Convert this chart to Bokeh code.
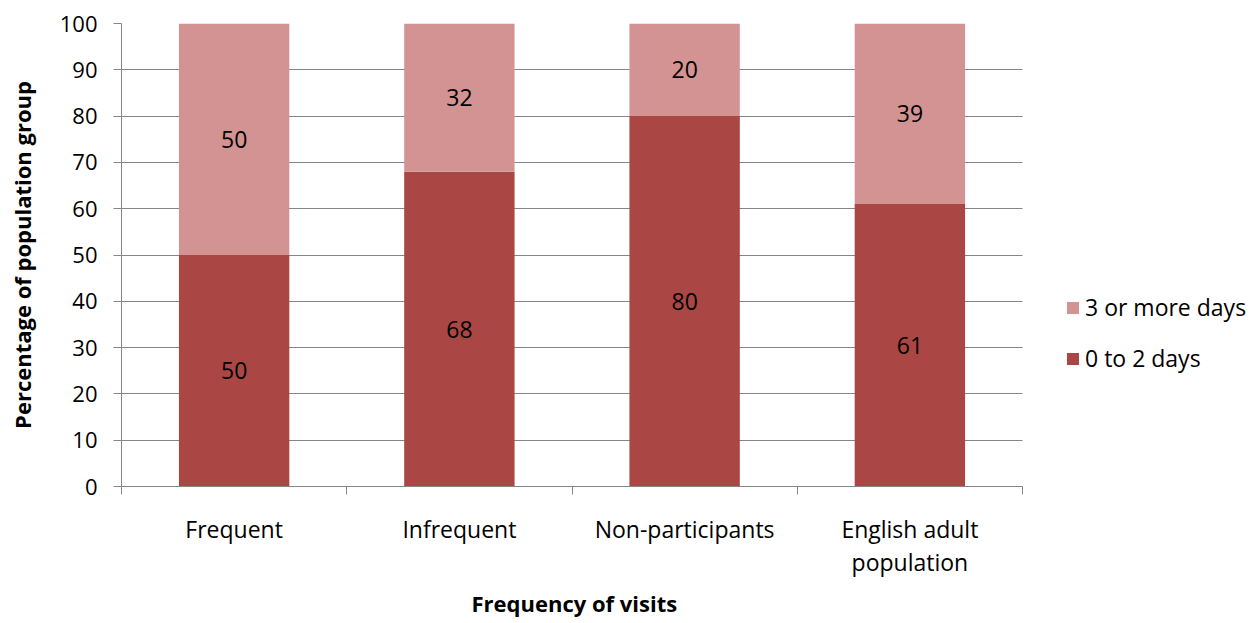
from bokeh.plotting import figure
from bokeh.models import ColumnDataSource, FixedTicker, Legend, LegendItem, Range1d, Title
from bokeh.core.properties import value
from bokeh.embed import file_html
from bokeh.resources import INLINE

categories = ["Frequent", "Infrequent", "Non-participants", "English adult population"]
cat_labels = ["Frequent", "Infrequent", "Non-participants", "English adult\npopulation"]
low_days = [50, 68, 80, 61]      # 0 to 2 days
high_days = [50, 32, 20, 39]     # 3 or more days
y_ticks = [0, 10, 20, 30, 40, 50, 60, 70, 80, 90, 100]

FONT = "Open Sans"
DARK = "#AA4643"
LIGHT = "#D29392"
GRID = "#868686"

n = len(categories)
xs = [i + 0.5 for i in range(n)]
src = ColumnDataSource(dict(
    x=xs,
    low=low_days,
    high=high_days,
    top_high=[a + b for a, b in zip(low_days, high_days)],
    mid_low=[a / 2 for a in low_days],
    mid_high=[a + b / 2 for a, b in zip(low_days, high_days)],
    lab_low=[str(v) for v in low_days],
    lab_high=[str(v) for v in high_days],
))

# frame spans from the y axis to the right edge; the legend lives inside it
FRAME_L, PLOT_R, FIG_W = 121, 1022, 1250
x_end = n * (FIG_W - FRAME_L) / (PLOT_R - FRAME_L)

p = figure(width=FIG_W, height=623, output_backend="svg", toolbar_location=None,
           x_range=Range1d(0, x_end), y_range=Range1d(0, 100),
           min_border_left=FRAME_L, min_border_right=0, min_border_top=23,
           min_border_bottom=137)
p.outline_line_color = None

r_low = p.vbar(x="x", bottom=0, top="low", width=0.49, source=src,
               fill_color=DARK, line_color=None)
r_high = p.vbar(x="x", bottom="low", top="top_high", width=0.49, source=src,
                fill_color=LIGHT, line_color=None)

p.text(x="x", y="mid_low", text="lab_low", source=src, text_align="center",
       text_baseline="middle", text_font=value(FONT), text_font_size="23px",
       text_color="black")
p.text(x="x", y="mid_high", text="lab_high", source=src, text_align="center",
       text_baseline="middle", text_font=value(FONT), text_font_size="23px",
       text_color="black")

# X axis
p.xaxis.bounds = (0, n)
p.xaxis.ticker = FixedTicker(ticks=xs, minor_ticks=list(range(n + 1)))
p.xaxis.major_label_overrides = {x: lab for x, lab in zip(xs, cat_labels)}
p.xaxis.major_tick_line_color = None
p.xaxis.major_tick_out = 0
p.xaxis.major_tick_in = 0
p.xaxis.minor_tick_line_color = GRID
p.xaxis.minor_tick_out = 8
p.xaxis.minor_tick_in = 0
p.xaxis.axis_line_color = GRID
p.xaxis.major_label_standoff = 18
p.xaxis.major_label_text_font = FONT
p.xaxis.major_label_text_font_size = "23px"
p.xaxis.major_label_text_line_height = 1.05
p.xaxis.major_label_text_color = "black"

xtitle = Title(text="Frequency of visits", align="left", offset=350,
               text_font=FONT, text_font_style="bold", text_font_size="22px",
               text_color="black", standoff=9)
p.add_layout(xtitle, "below")

# Y axis
p.yaxis.ticker = FixedTicker(ticks=y_ticks, minor_ticks=[])
p.yaxis.major_tick_line_color = GRID
p.yaxis.major_tick_out = 8
p.yaxis.major_tick_in = 0
p.yaxis.axis_line_color = GRID
p.yaxis.major_label_standoff = 16
p.yaxis.major_label_text_font = FONT
p.yaxis.major_label_text_font_size = "22px"
p.yaxis.major_label_text_color = "black"
p.yaxis.axis_label = "Percentage of population group"
p.yaxis.axis_label_text_font = FONT
p.yaxis.axis_label_text_font_style = "bold"
p.yaxis.axis_label_text_font_size = "22px"
p.yaxis.axis_label_text_color = "black"
p.yaxis.axis_label_standoff = 20

p.xgrid.grid_line_color = None
p.ygrid.grid_line_color = GRID
p.ygrid.grid_line_width = 1
p.ygrid.cross_bounds = (0, n)

legend = Legend(items=[LegendItem(label="3 or more days", renderers=[r_high]),
                       LegendItem(label="0 to 2 days", renderers=[r_low])],
                location=(944, 108), orientation="vertical")
legend.label_text_font = FONT
legend.label_text_font_size = "23px"
legend.label_text_color = "black"
legend.glyph_width = 15
legend.glyph_height = 15
legend.spacing = 11
legend.label_height = 40
legend.label_standoff = 5
legend.padding = 0
legend.margin = 0
legend.border_line_color = None
legend.background_fill_alpha = 0
p.add_layout(legend, "center")

open("out.html", "w").write(file_html(p, INLINE))
